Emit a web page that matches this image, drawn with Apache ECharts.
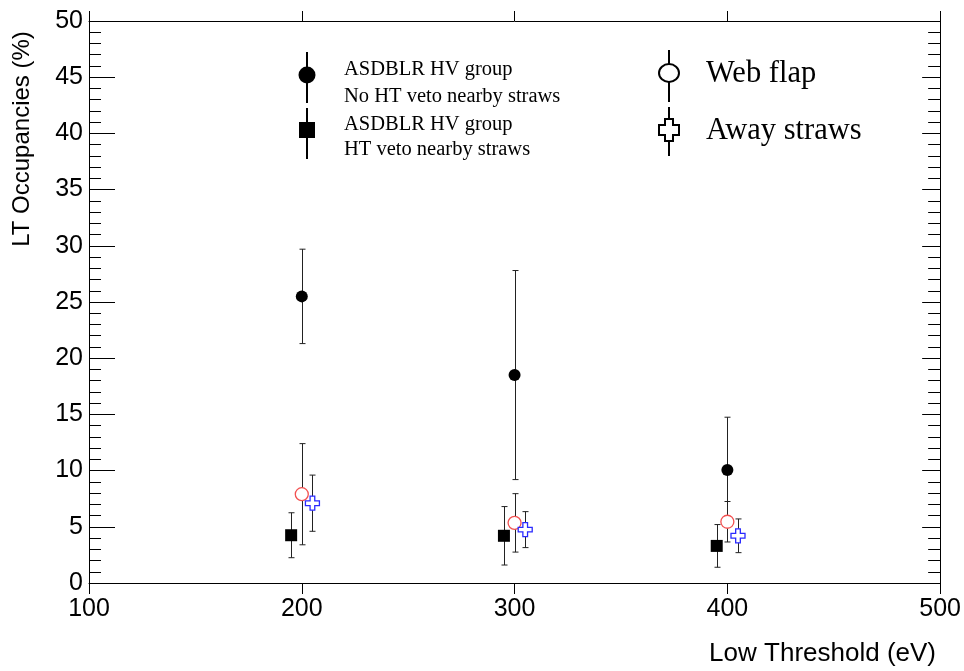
<!DOCTYPE html>
<html><head><meta charset="utf-8">
<script src="https://cdn.jsdelivr.net/npm/echarts@6/dist/echarts.min.js"></script>
<style>html,body{margin:0;padding:0;background:#fff}#c{width:964px;height:671px}</style>
</head><body><div id="c"></div>
<script>
// ---- data ----
const xTicks = [100, 200, 300, 400, 500];
const noVetoX = [200, 300, 400];
const noVetoY = [25.5, 18.5, 10.05];
const noVetoErr = [4.2, 9.3, 4.7];
const vetoX = [195, 295, 395];
const vetoY = [4.25, 4.2, 3.3];
const vetoErr = [2.0, 2.6, 1.9];
const webX = [200, 300, 400];
const webY = [7.9, 5.35, 5.45];
const webErr = [4.5, 2.6, 1.8];
const awayX = [205, 305, 405];
const awayY = [7.1, 4.75, 4.2];
const awayErr = [2.5, 1.6, 1.5];

const crossPath = 'path://M4,0 L8,0 L8,4 L12,4 L12,8 L8,8 L8,12 L4,12 L4,8 L0,8 L0,4 L4,4 Z';

function zipErr(xs, ys, es){ return xs.map((x,i)=>[x, ys[i], es[i]]); }
function zipPt(xs, ys){ return xs.map((x,i)=>[x, ys[i]]); }

function errSeries(data){
  return {
    type: 'custom', xAxisIndex: 0, yAxisIndex: 0, z: 2, silent: true,
    data: data,
    renderItem: function(params, api){
      const x = api.value(0), y = api.value(1), e = api.value(2);
      const top = api.coord([x, y + e]);
      const bot = api.coord([x, y - e]);
      const st = {stroke: '#222', lineWidth: 1};
      const cx = Math.round(top[0]) + 0.5;
      return {type: 'group', children: [
        {type: 'line', shape: {x1: cx, y1: top[1], x2: cx, y2: bot[1]}, style: st},
        {type: 'line', shape: {x1: cx - 3, y1: top[1], x2: cx + 3, y2: top[1]}, style: st},
        {type: 'line', shape: {x1: cx - 3, y1: bot[1], x2: cx + 3, y2: bot[1]}, style: st}
      ]};
    }
  };
}

const chart = echarts.init(document.getElementById('c'), null, {renderer: 'canvas'});
const axisFont = {fontFamily: 'Liberation Sans, Arial, sans-serif', fontSize: 25, color: '#000'};

const serif = 'Liberation Serif, Times New Roman, serif';

chart.setOption({
  animation: false,
  backgroundColor: '#fff',
  grid: {left: 89, right: 23, top: 21, bottom: 88},
  xAxis: [
    {type: 'value', position: 'bottom', min: xTicks[0], max: xTicks[xTicks.length-1], interval: 100,
     axisLine: {show: true, onZero: false, lineStyle: {color: '#000', width: 1}},
     axisTick: {show: true, inside: false, length: 11, lineStyle: {color: '#000'}},
     axisLabel: Object.assign({margin: 14, showMinLabel: true, showMaxLabel: true}, axisFont),
     splitLine: {show: false}},
    {type: 'value', position: 'top', min: xTicks[0], max: xTicks[xTicks.length-1], interval: 100,
     axisLine: {show: true, onZero: false, lineStyle: {color: '#000', width: 1}},
     axisTick: {show: true, inside: false, length: 10, lineStyle: {color: '#000'}},
     axisLabel: {show: false}, splitLine: {show: false}}
  ],
  yAxis: [
    {type: 'value', position: 'left', min: 0, max: 50, interval: 5,
     axisLine: {show: true, onZero: false, lineStyle: {color: '#000', width: 1}},
     axisTick: {show: true, inside: true, length: 26, lineStyle: {color: '#000'}},
     minorTick: {show: true, splitNumber: 5, length: 12, lineStyle: {color: '#000'}},
     axisLabel: Object.assign({margin: 6, showMinLabel: true, showMaxLabel: true}, axisFont),
     splitLine: {show: false}, minorSplitLine: {show: false}},
    {type: 'value', position: 'right', min: 0, max: 50, interval: 5,
     axisLine: {show: true, onZero: false, lineStyle: {color: '#000', width: 1}},
     axisTick: {show: true, inside: true, length: 18, lineStyle: {color: '#000'}},
     minorTick: {show: true, splitNumber: 5, length: 12, lineStyle: {color: '#000'}},
     axisLabel: {show: false}, splitLine: {show: false}, minorSplitLine: {show: false}}
  ],
  series: [
    errSeries(zipErr(noVetoX, noVetoY, noVetoErr)),
    errSeries(zipErr(vetoX, vetoY, vetoErr)),
    errSeries(zipErr(webX, webY, webErr)),
    errSeries(zipErr(awayX, awayY, awayErr)),
    {name: 'noveto', type: 'scatter', z: 5, symbol: 'circle', symbolSize: 12,
     itemStyle: {color: '#000', opacity: 1}, data: zipPt(noVetoX, noVetoY)},
    {name: 'veto', type: 'scatter', z: 5, symbol: 'rect', symbolSize: 12,
     itemStyle: {color: '#000', opacity: 1}, data: zipPt(vetoX, vetoY)},
    {name: 'web', type: 'scatter', z: 5, symbol: 'circle', symbolSize: 13,
     itemStyle: {color: '#fff', borderColor: '#f25050', borderWidth: 1.3, opacity: 1}, data: zipPt(webX, webY)},
    {name: 'away', type: 'scatter', z: 5, symbol: crossPath, symbolSize: 14,
     itemStyle: {color: '#fff', borderColor: '#2a2aff', borderWidth: 1.3, opacity: 1}, data: zipPt(awayX, awayY)}
  ],
  graphic: [
    // axis titles
    {type: 'text', x: 22, y: 139, rotation: Math.PI/2,
     style: {text: 'LT Occupancies (%)', font: '24px Liberation Sans, Arial, sans-serif', fill: '#000', textAlign: 'center', textVerticalAlign: 'middle'}},
    {type: 'text', x: 936, y: 654,
     style: {text: 'Low Threshold (eV)', font: '26px Liberation Sans, Arial, sans-serif', fill: '#000', textAlign: 'right', textVerticalAlign: 'middle'}},
    // legend left
    {type: 'line', shape: {x1: 307, y1: 52, x2: 307, y2: 103}, style: {stroke: '#000', lineWidth: 2}},
    {type: 'circle', shape: {cx: 307, cy: 75, r: 8.5}, style: {fill: '#000'}},
    {type: 'line', shape: {x1: 307, y1: 108, x2: 307, y2: 159}, style: {stroke: '#000', lineWidth: 2}},
    {type: 'rect', shape: {x: 299, y: 122, width: 16, height: 16}, style: {fill: '#000'}},
    {type: 'text', x: 344, y: 70, style: {text: 'ASDBLR HV group', font: '20.5px ' + serif, fill: '#000', textVerticalAlign: 'middle'}},
    {type: 'text', x: 344, y: 97, style: {text: 'No HT veto nearby straws', font: '20.5px ' + serif, fill: '#000', textVerticalAlign: 'middle'}},
    {type: 'text', x: 344, y: 125, style: {text: 'ASDBLR HV group', font: '20.5px ' + serif, fill: '#000', textVerticalAlign: 'middle'}},
    {type: 'text', x: 344, y: 150, style: {text: 'HT veto nearby straws', font: '20.5px ' + serif, fill: '#000', textVerticalAlign: 'middle'}},
    // legend right
    {type: 'line', shape: {x1: 669, y1: 50, x2: 669, y2: 102}, style: {stroke: '#000', lineWidth: 2}},
    {type: 'ellipse', shape: {cx: 669, cy: 73, rx: 10, ry: 9}, style: {fill: '#fff', stroke: '#000', lineWidth: 2}},
    {type: 'line', shape: {x1: 669, y1: 107, x2: 669, y2: 156}, style: {stroke: '#000', lineWidth: 2}},
    {type: 'polygon', shape: {points: [[665,119],[673,119],[673,125],[679,125],[679,135],[673,135],[673,141],[665,141],[665,135],[659,135],[659,125],[665,125]]},
     style: {fill: '#fff', stroke: '#000', lineWidth: 2}},
    {type: 'text', x: 706, y: 74, style: {text: 'Web flap', font: '30.5px ' + serif, fill: '#000', textVerticalAlign: 'middle'}},
    {type: 'text', x: 706, y: 131, style: {text: 'Away straws', font: '30.5px ' + serif, fill: '#000', textVerticalAlign: 'middle'}}
  ]
});
</script>
</body></html>
